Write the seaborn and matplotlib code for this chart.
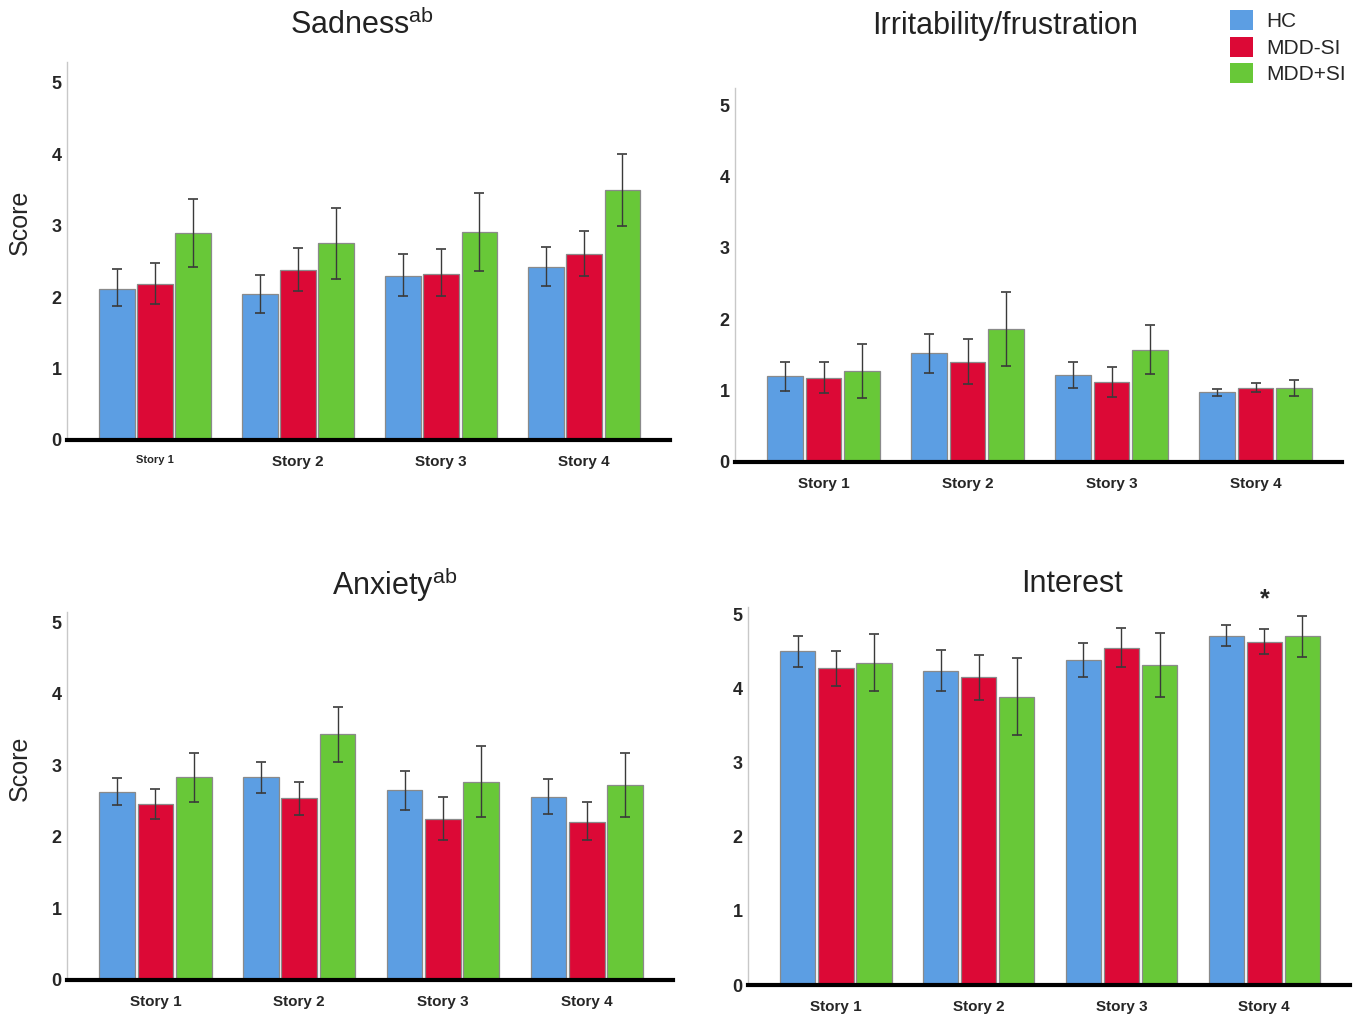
import numpy as np
import pandas as pd
import matplotlib
matplotlib.use('Agg')
import matplotlib.pyplot as plt
from matplotlib.patches import Patch
import seaborn as sns

stories = ['Story 1', 'Story 2', 'Story 3', 'Story 4']
groups = ['HC', 'MDD-SI', 'MDD+SI']
colors = ['#5C9EE3', '#DC0936', '#68C838']

# rows = HC, MDD-SI, MDD+SI ; cols = Story 1..4
sad_mean = [[2.12, 2.04, 2.30, 2.42], [2.19, 2.38, 2.32, 2.60], [2.89, 2.75, 2.91, 3.50]]
sad_lo = [[1.88, 1.78, 2.01, 2.15], [1.90, 2.09, 2.01, 2.29], [2.42, 2.25, 2.36, 2.99]]
sad_hi = [[2.39, 2.31, 2.60, 2.70], [2.48, 2.68, 2.67, 2.92], [3.37, 3.24, 3.46, 4.00]]

irr_mean = [[1.20, 1.53, 1.22, 0.98], [1.18, 1.40, 1.12, 1.04], [1.27, 1.86, 1.57, 1.04]]
irr_lo = [[0.99, 1.24, 1.03, 0.92], [0.96, 1.09, 0.91, 0.98], [0.89, 1.35, 1.23, 0.93]]
irr_hi = [[1.40, 1.80, 1.40, 1.02], [1.40, 1.72, 1.33, 1.10], [1.65, 2.38, 1.92, 1.15]]

anx_mean = [[2.63, 2.83, 2.66, 2.56], [2.46, 2.54, 2.25, 2.20], [2.83, 3.43, 2.77, 2.72]]
anx_lo = [[2.45, 2.61, 2.38, 2.32], [2.25, 2.30, 1.95, 1.95], [2.48, 3.05, 2.28, 2.28]]
anx_hi = [[2.82, 3.04, 2.92, 2.81], [2.67, 2.77, 2.55, 2.48], [3.17, 3.81, 3.27, 3.17]]

int_mean = [[4.50, 4.24, 4.38, 4.71], [4.28, 4.15, 4.55, 4.63], [4.35, 3.89, 4.32, 4.71]]
int_lo = [[4.29, 3.96, 4.16, 4.57], [4.04, 3.84, 4.29, 4.47], [3.96, 3.37, 3.89, 4.43]]
int_hi = [[4.71, 4.52, 4.61, 4.86], [4.50, 4.45, 4.81, 4.80], [4.73, 4.41, 4.75, 4.98]]

sns.set_style('white')
plt.rcParams['font.family'] = ['Liberation Sans', 'DejaVu Sans']
plt.rcParams['mathtext.fontset'] = 'custom'
plt.rcParams['mathtext.rm'] = 'Liberation Sans'

fig = plt.figure(figsize=(13.63, 10.17), dpi=100)
W, H = 1363, 1017


def rect(x0, x1, ytop, ybot):
    return [x0 / W, 1 - ybot / H, (x1 - x0) / W, (ybot - ytop) / H]


panels = [
    (sad_mean, sad_lo, sad_hi, rect(67, 670, 62, 440), 5.29),
    (irr_mean, irr_lo, irr_hi, rect(735, 1342, 88, 462), 5.24),
    (anx_mean, anx_lo, anx_hi, rect(67, 673, 612, 980), 5.14),
    (int_mean, int_lo, int_hi, rect(748, 1350, 607, 985), 5.10),
]

axes = []
bars = []
for mean, lo, hi, r, top in panels:
    ax = fig.add_axes(r)
    df = pd.DataFrame({
        'story': stories * 3,
        'group': np.repeat(groups, 4),
        'score': np.ravel(mean),
    })
    sns.barplot(data=df, x='story', y='score', hue='group', order=stories,
                hue_order=groups, palette=colors, saturation=1, errorbar=None,
                width=0.8, gap=0.07, edgecolor='#8a8a8a', linewidth=0.9,
                legend=False, ax=ax)
    conts = list(ax.containers)
    for ci, cont in enumerate(conts):
        xs = [b.get_x() + b.get_width() / 2 for b in cont]
        m = np.array(mean[ci])
        yerr = [m - np.array(lo[ci]), np.array(hi[ci]) - m]
        ax.errorbar(xs, m, yerr=yerr, fmt='none', ecolor='#3a3a3a',
                    elinewidth=1.0, capsize=3.5, capthick=1.2)
    ax.set_xlim(-0.615, 3.6)
    ax.set_ylim(0, top)
    ax.set_yticks([0, 1, 2, 3, 4, 5])
    ax.set_xlabel('')
    ax.set_ylabel('')
    for s in ['top', 'right']:
        ax.spines[s].set_visible(False)
    ax.spines['left'].set_color('#c8c8c8')
    ax.spines['left'].set_linewidth(1.0)
    ax.spines['bottom'].set_color('black')
    ax.spines['bottom'].set_linewidth(3)
    ax.tick_params(axis='y', length=0, pad=4, labelsize=13)
    ax.tick_params(axis='x', length=0, pad=11, labelsize=11)
    for t in ax.get_yticklabels() + ax.get_xticklabels():
        t.set_fontweight('bold')
    axes.append(ax)
    bars.append(conts)

axes[0].get_xticklabels()[0].set_fontsize(8)

# significance star on Interest, Story 4, MDD-SI
b = bars[3][1][3]
axes[3].text(b.get_x() + b.get_width() / 2, 5.2, '*', ha='center', va='center',
             fontsize=18, fontweight='bold', clip_on=False)

fig.text(362 / W, 1 - 25 / H, r'Sadness$^{\rm ab}$', ha='center', va='center', fontsize=22, color='#222222')
fig.text(1005 / W, 1 - 26 / H, 'Irritability/frustration', ha='center', va='center', fontsize=22, color='#222222')
fig.text(395 / W, 1 - 585 / H, r'Anxiety$^{\rm ab}$', ha='center', va='center', fontsize=22, color='#222222')
fig.text(1072 / W, 1 - 584 / H, 'Interest', ha='center', va='center', fontsize=22, color='#222222')

fig.text(20 / W, 1 - 222 / H, 'Score', rotation=90, ha='center', va='center', fontsize=18)
fig.text(20 / W, 1 - 768 / H, 'Score', rotation=90, ha='center', va='center', fontsize=18)

handles = [Patch(facecolor=c, edgecolor='none', label=g) for c, g in zip(colors, groups)]
fig.legend(handles=handles, loc='upper left', bbox_to_anchor=(1222 / W, 1 - 2 / H),
           frameon=False, fontsize=15, handlelength=1.1, handleheight=1.1,
           handletextpad=0.6, labelspacing=0.25, borderaxespad=0)

fig.savefig('out.png', dpi=100)
